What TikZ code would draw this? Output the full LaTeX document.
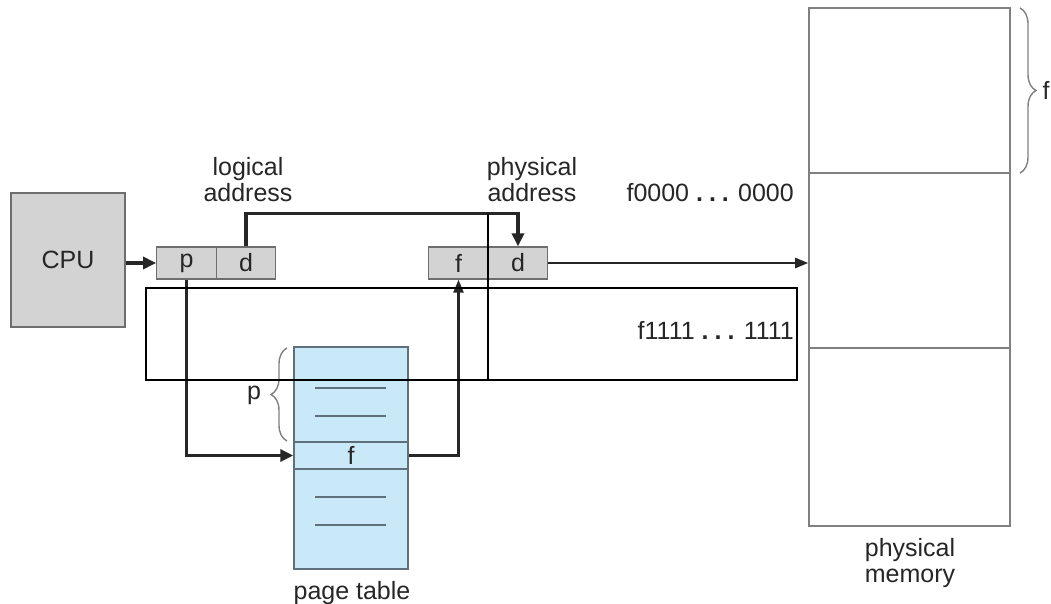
\documentclass[tikz,border=0pt]{standalone}
\usepackage{fontspec}
\setmainfont{Liberation Sans}
\usetikzlibrary{arrows.meta,decorations.pathreplacing}
\definecolor{boxgray}{HTML}{D3D3D3}
\definecolor{edgegray}{HTML}{6E6E6E}
\definecolor{ptblue}{HTML}{C9E8F8}
\definecolor{ptedge}{HTML}{5E707C}
\definecolor{txt}{HTML}{262626}
\tikzset{
  lbl/.style={font=\fontsize{25}{26}\selectfont, text=txt, inner sep=0pt, align=center},
  cell/.style={draw=edgegray, fill=boxgray, line width=1.3pt, minimum width=59.5pt, minimum height=32pt, inner sep=0pt, font=\fontsize{25}{26}\selectfont, text=txt},
  thick arrow/.style={line width=3.4pt, draw=black!85, -{Triangle[length=13pt,width=12pt]}},
  thin arrow/.style={line width=2.4pt, draw=black!85, -{Triangle[length=13pt,width=10pt]}},
  ptline/.style={draw=ptedge, line width=1.5pt},
  memline/.style={draw=gray, line width=1.6pt},
  bracestyle/.style={draw=gray, line width=1.4pt, decorate, decoration={brace, amplitude=16pt, aspect=0.5}},
  overlay box/.style={draw=black, line width=2.2pt}
}
\begin{document}
\begin{tikzpicture}[x=1pt,y=-1pt]
\useasboundingbox (0,0) rectangle (1051,604);
% CPU
\node[draw=edgegray, fill=boxgray, line width=1.3pt, minimum width=114pt, minimum height=134pt, inner sep=0pt, font=\fontsize{25}{26}\selectfont, text=txt] (cpu) at (68,260) {CPU};
% logical address register
\node[cell] (p) at (186.5,263) {p};
\node[cell] (d) at (246,263) {d};
% physical address register
\node[cell] (f) at (458.5,263) {f};
\node[cell] (d2) at (518,263) {d};
% labels
\node[lbl] (lal) at (248,180) {logical\\address};
\node[lbl] (pal) at (532,180) {physical\\address};
\node[lbl, anchor=east] (f0) at (794,193) {f0000 \textbf{.\hspace{6pt}.\hspace{6pt}.} 0000};
\node[lbl, anchor=east] (f1) at (794,330) {f1111 \textbf{.\hspace{6pt}.\hspace{6pt}.} 1111};
% page table
\node[draw=ptedge, fill=ptblue, line width=1.5pt, minimum width=114pt, minimum height=222pt, inner sep=0pt] (pt) at (351,458) {};
\node[draw=ptedge, line width=1.5pt, minimum width=114pt, minimum height=27pt, inner sep=0pt, font=\fontsize{25}{26}\selectfont, text=txt] (ptf) at (351,455.5) {f};
\draw[ptline] (315,388) -- (386,388);
\draw[ptline] (315,416) -- (386,416);
\draw[ptline] (315,497) -- (386,497);
\draw[ptline] (315,525) -- (386,525);
\node[lbl] (ptlabel) at (352,593) {page table};
\draw[bracestyle] (287,441) -- (287,348);
\node[lbl] (plabel) at (254,395) {p};
% physical memory
\node[draw=gray, line width=1.6pt, minimum width=201pt, minimum height=518pt, inner sep=0pt] (mem) at (909.5,267) {};
\draw[memline] (809,173) -- (1010,173);
\draw[memline] (809,348) -- (1010,348);
\node[lbl] (pmlabel) at (910,563) {physical\\memory};
\draw[bracestyle] (1020,8) -- (1020,173);
\node[lbl] (flabel) at (1046,90) {f};
% connectors
\draw[thick arrow] (cpu.east |- p.west) -- (p.west);
\draw[thick arrow] (d.north) -- ++(0,-33) -| (d2.north);
\draw[thick arrow] (p.south) |- (ptf.west);
\draw[thin arrow] (ptf.east) -| (f.south);
\draw[thin arrow] (d2.east) -- (d2.east -| mem.west);
% overlay box and line
\draw[overlay box] (146,288) rectangle (797,380);
\draw[black, line width=1.8pt] (488,214) -- (488,380);
\end{tikzpicture}
\end{document}
